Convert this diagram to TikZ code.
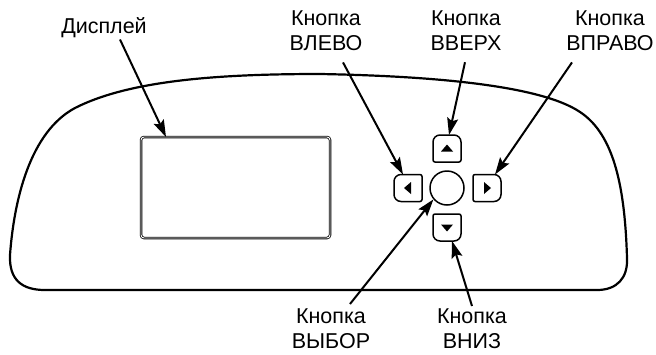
\documentclass[tikz,border=0pt]{standalone}
\usepackage{fontspec}
\setmainfont{Liberation Sans}
\usetikzlibrary{arrows.meta}

\tikzset{
  callout/.style={font=\fontsize{21.5}{25}\selectfont, align=center, inner sep=0pt, anchor=base},
  pointer/.style={line width=2pt, -{Stealth[length=17pt,width=11pt,inset=3pt]}},
  key/.style={minimum width=28pt, minimum height=27pt, inner sep=0pt, outer sep=0pt},
  keyline/.style={line width=1.5pt},
  screen/.style={draw, double, line width=0.8pt, double distance=0.9pt, rounded corners=3pt,
    minimum width=189pt, minimum height=101pt, inner sep=0pt, outer sep=0pt},
}

\begin{document}
\begin{tikzpicture}[x=1pt,y=-1pt]
  \useasboundingbox (0,0) rectangle (656,354);
  % housing
  \draw[line width=2.2pt] (45,290) -- (597,290) .. controls (617,290) and (628,278) .. (627,258)
    .. controls (625,190) and (615,135) .. (580,112) .. controls (540,85) and (430,76) .. (320,74)
    .. controls (220,74) and (130,80) .. (75,108) .. controls (30,132) and (14,200) .. (10,255)
    .. controls (9,280) and (22,290) .. (45,290) -- cycle;

  % display and keys
  \node[screen] (disp) at (235.5,187.5) {};
  \node[key] (left) at (408,188) {};
  \node[key] (up) at (447,148.5) {};
  \node[key] (right) at (487,188) {};
  \node[key] (down) at (447,227.5) {};
  \node[circle, draw, line width=1.5pt, minimum size=34pt, inner sep=0pt] (sel) at (447,188) {};

  \draw[keyline] (up.south) [rounded corners=2pt] -- (up.south west) [rounded corners=7pt] -- (up.north west)
    -- (up.north east) [rounded corners=2pt] -- (up.south east) -- cycle;
  \draw[keyline] (down.north) [rounded corners=2pt] -- (down.north west) [rounded corners=7pt] -- (down.south west)
    -- (down.south east) [rounded corners=2pt] -- (down.north east) -- cycle;
  \draw[keyline] (left.east) [rounded corners=2pt] -- (left.north east) [rounded corners=7pt] -- (left.north west)
    -- (left.south west) [rounded corners=2pt] -- (left.south east) -- cycle;
  \draw[keyline] (right.west) [rounded corners=2pt] -- (right.north west) [rounded corners=7pt] -- (right.north east)
    -- (right.south east) [rounded corners=2pt] -- (right.south west) -- cycle;

  \fill (up.center) ++(-6,3) -- ++(12,0) -- ++(-6,-7) -- cycle;
  \fill (down.center) ++(-6,-3) -- ++(12,0) -- ++(-6,7) -- cycle;
  \fill (left.center) ++(3,-6) -- ++(0,12) -- ++(-7,-6) -- cycle;
  \fill (right.center) ++(-3,-6) -- ++(0,12) -- ++(7,-6) -- cycle;

  % labels
  \node[callout] (lblDisp) at (104,33) {Дисплей};
  \node[callout] (lblLeft) at (326,50) {Кнопка\\ВЛЕВО};
  \node[callout] (lblUp) at (466,50) {Кнопка\\ВВЕРХ};
  \node[callout] (lblRight) at (610,50) {Кнопка\\ВПРАВО};
  \node[callout] (lblSel) at (331,348) {Кнопка\\ВЫБОР};
  \node[callout] (lblDown) at (472,348) {Кнопка\\ВНИЗ};

  % pointers
  \draw[pointer] ([xshift=16pt,yshift=-2pt]lblDisp.south) -- ([xshift=25pt]disp.north west);
  \draw[pointer] ([xshift=17pt,yshift=-12pt]lblLeft.south) -- ([xshift=9pt]left.north west);
  \draw[pointer] ([xshift=-1pt,yshift=-12pt]lblUp.south) -- ([xshift=2pt]up.north);
  \draw[pointer] ([xshift=-38pt,yshift=-12pt]lblRight.south) -- ([xshift=-6pt]right.north east);
  \draw[pointer] ([xshift=19pt,yshift=4pt]lblSel.north) -- (sel.220);
  \draw[pointer] ([yshift=2pt]lblDown.north) -- ([xshift=5pt]down.south);
\end{tikzpicture}
\end{document}
